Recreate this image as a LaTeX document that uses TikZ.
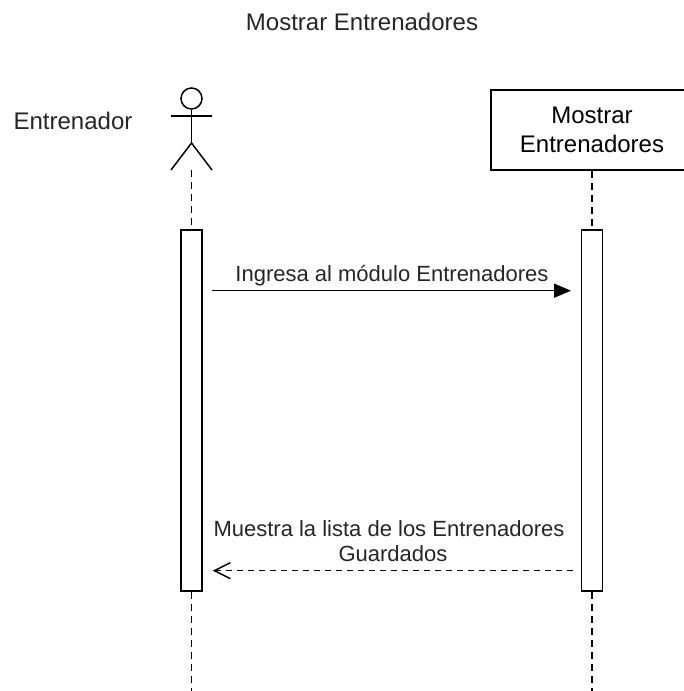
\documentclass[tikz,border=0pt]{standalone}
\usepackage{fontspec}
\setmainfont{Liberation Sans}
\usetikzlibrary{arrows.meta}
\begin{document}
\begin{tikzpicture}[x=1pt,y=-1pt,
  lbl/.style={inner sep=0pt, anchor=base, text=black!85},
  big/.style={font=\fontsize{24}{29}\selectfont},
  msgfont/.style={font=\fontsize{22}{24.3}\selectfont},
  lifeline/.style={line width=1.5pt, dash pattern=on 7pt off 5pt},
  actbox/.style={draw, line width=1.6pt, fill=white, minimum width=21pt, minimum height=361pt, inner sep=0pt},
  partbox/.style={draw, line width=1.6pt, fill=white, minimum width=202pt, minimum height=80pt, inner sep=0pt, align=center, big},
  sync/.style={line width=1.5pt, -{Triangle[length=17pt,width=14pt]}},
  reply/.style={line width=1.5pt, dash pattern=on 6pt off 5pt, -{Straight Barb[length=16pt,width=16pt,line width=1.5pt]}}
]
\useasboundingbox (0,0) rectangle (684,691);
\clip (0,0) rectangle (684,691);
\fill[white] (0,0) rectangle (684,691);

% title
\node[lbl, big] (title) at (362,30) {Mostrar Entrenadores};

% actor
\node[lbl, big] (actlbl) at (73,129) {Entrenador};
\node[draw, circle, line width=1.5pt, minimum size=21pt, inner sep=0pt] (head) at (191.5,98.5) {};
\coordinate (hip) at (191.5,143);
\coordinate (armL) at (171,116);
\coordinate (armR) at (212,116);
\coordinate (legL) at (171,170);
\coordinate (legR) at (212,170);
\draw[line width=1.5pt] (head.south) -- (hip);
\draw[line width=1.5pt] (armL) -- (armR);
\draw[line width=1.5pt] (legL) -- (hip) -- (legR);

% participant
\node[partbox] (part) at (592,130) {Mostrar\\Entrenadores};

% activation boxes
\node[actbox] (la) at (191.5,410.5) {};
\node[actbox] (ra) at (592,410.5) {};

% lifelines
\coordinate (lltop) at (191.5,170);
\coordinate (llbot) at (191.5,691);
\coordinate (rlbot) at (592,691);
\draw[lifeline] (lltop) -- (la.north);
\draw[lifeline] (la.south) -- (llbot);
\draw[lifeline] (part.south) -- (ra.north);
\draw[lifeline] (ra.south) -- (rlbot);

% messages
\coordinate (m1s) at (211.7,290.7);
\coordinate (m1e) at (571,290.7);
\draw[sync] (m1s) -- (m1e);
\node[lbl, msgfont] (m1l) at (392,281) {Ingresa al módulo Entrenadores};

\coordinate (m2s) at (573,570.7);
\coordinate (m2e) at (212.7,570.7);
\draw[reply] (m2s) -- (m2e);
\node[lbl, msgfont] (m2a) at (389,536.7) {Muestra la lista de los Entrenadores};
\node[lbl, msgfont] (m2b) at (393,561) {Guardados};
\end{tikzpicture}
\end{document}
